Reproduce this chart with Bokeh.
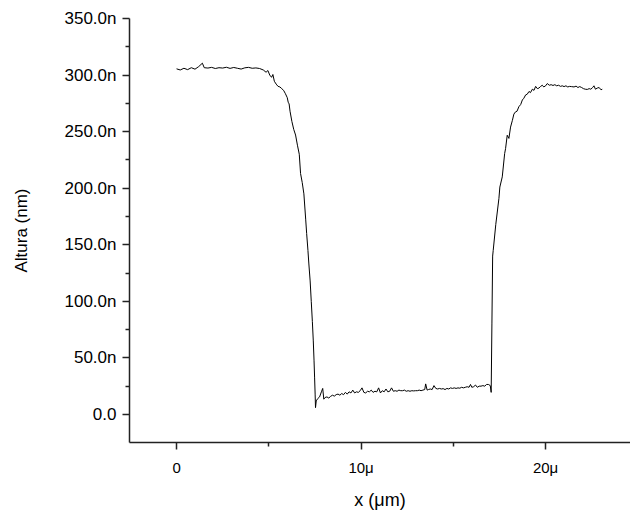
from bokeh.embed import file_html
from bokeh.models import ColumnDataSource, CustomJSTickFormatter, FixedTicker, Range1d
from bokeh.plotting import figure
from bokeh.resources import INLINE

# perfil de altura (x en um, altura en nm)
x_um = [
    0.0, 0.2, 0.4, 0.6, 0.8, 1.0, 1.2, 1.4, 1.5, 1.7, 1.9, 2.1, 2.3, 2.5, 2.7, 2.9,
    3.1, 3.3, 3.5, 3.7, 3.9, 4.1, 4.3, 4.5, 4.7, 4.85, 4.95, 5.05, 5.15, 5.22, 5.3,
    5.4, 5.5, 5.6, 5.7, 5.8, 5.9, 6.0, 6.05, 6.1, 6.15, 6.25, 6.35, 6.45, 6.55, 6.65,
    6.72, 6.81, 6.9, 7.0, 7.05, 7.12, 7.17, 7.24, 7.30, 7.36, 7.41, 7.45, 7.48, 7.51,
    7.53, 7.57, 7.65, 7.75, 7.85, 7.92, 7.98, 8.05, 8.15, 8.25, 8.35, 8.45, 8.55,
    8.65, 8.75, 8.85, 8.95, 9.05, 9.15, 9.25, 9.35, 9.45, 9.55, 9.65, 9.75, 9.85,
    9.95, 10.05, 10.15, 10.25, 10.35, 10.45, 10.55, 10.65, 10.75, 10.85, 10.95,
    11.05, 11.15, 11.25, 11.35, 11.45, 11.55, 11.65, 11.75, 11.85, 11.95, 12.05,
    12.15, 12.25, 12.35, 12.45, 12.55, 12.65, 12.75, 12.85, 12.95, 13.05, 13.15,
    13.25, 13.35, 13.45, 13.50, 13.58, 13.65, 13.75, 13.85, 13.95, 14.05, 14.15,
    14.25, 14.35, 14.45, 14.55, 14.65, 14.75, 14.85, 14.95, 15.05, 15.15, 15.25,
    15.35, 15.45, 15.55, 15.65, 15.75, 15.85, 15.93, 16.0, 16.1, 16.2, 16.3, 16.4,
    16.5, 16.6, 16.7, 16.8, 16.9, 17.0, 17.05, 17.09, 17.13, 17.16, 17.3, 17.47,
    17.52, 17.65, 17.78, 17.83, 17.92, 18.01, 18.1, 18.2, 18.28, 18.37, 18.45, 18.55,
    18.65, 18.74, 18.82, 18.92, 19.0, 19.1, 19.18, 19.28, 19.37, 19.46, 19.55, 19.64,
    19.73, 19.82, 19.9, 20.0, 20.09, 20.2, 20.3, 20.4, 20.5, 20.6, 20.7, 20.81, 20.9,
    21.0, 21.1, 21.2, 21.3, 21.4, 21.54, 21.65, 21.75, 21.85, 21.95, 22.05, 22.15,
    22.26, 22.36, 22.45, 22.55, 22.62, 22.7, 22.8, 22.9, 23.0, 23.07,
]
altura_nm = [
    305.5, 304.5, 306.0, 304.8, 306.5, 305.2, 307.5, 310.5, 306.5, 306.2, 306.8,
    305.8, 306.5, 306.2, 306.9, 305.9, 306.7, 306.0, 305.3, 306.4, 306.8, 306.0,
    306.3, 305.8, 304.5, 302.5, 304.0, 300.0, 298.0, 300.5, 294.5, 292.0, 290.0,
    289.5, 288.0, 286.5, 283.5, 280.0, 276.0, 274.5, 268.0, 259.0, 252.0, 247.0,
    238.0, 230.0, 213.0, 205.0, 195.0, 172.0, 160.0, 145.0, 133.0, 118.0, 100.0,
    82.0, 65.0, 48.0, 33.0, 18.0, 6.0, 12.0, 14.0, 15.5, 20.0, 23.0, 13.5, 15.0,
    15.5, 14.5, 16.0, 17.0, 16.2, 17.5, 18.0, 17.0, 18.5, 17.5, 19.5, 18.0, 20.0,
    19.0, 21.5, 19.0, 20.0, 19.5, 21.0, 23.5, 19.5, 19.0, 20.5, 20.0, 21.5, 19.5,
    20.5, 20.0, 23.5, 19.0, 21.0, 20.0, 22.5, 20.0, 20.5, 23.5, 20.5, 21.0, 20.5,
    21.5, 21.0, 21.0, 21.5, 20.5, 21.0, 20.5, 21.0, 20.8, 21.0, 21.0, 21.5, 21.0,
    21.5, 22.0, 27.0, 21.5, 22.0, 22.5, 22.0, 25.5, 23.0, 22.5, 23.0, 22.5, 22.8,
    22.0, 23.0, 22.5, 23.5, 23.0, 23.5, 23.0, 23.5, 23.2, 24.0, 23.5, 24.0, 24.5,
    24.0, 26.5, 24.0, 24.5, 26.0, 24.0, 25.0, 25.0, 25.5, 25.0, 26.5, 26.5, 25.5,
    19.5, 80.0, 140.0, 145.0, 168.0, 191.0, 201.0, 210.0, 230.6, 235.0, 246.8,
    244.0, 254.0, 260.0, 265.5, 267.5, 268.0, 272.0, 274.0, 278.0, 279.5, 282.5,
    283.0, 285.5, 284.5, 287.5, 286.5, 290.0, 288.0, 288.5, 290.0, 291.0, 289.5,
    290.5, 292.5, 291.0, 291.5, 290.8, 291.5, 290.5, 291.0, 290.0, 290.5, 289.8,
    290.5, 289.5, 290.0, 289.8, 289.5, 290.2, 289.0, 289.8, 289.0, 288.0, 287.5,
    287.3, 288.0, 287.5, 289.0, 290.5, 287.5, 288.5, 289.0, 287.0, 287.5,
]

y_major = [0, 50, 100, 150, 200, 250, 300, 350]
y_minor = [25, 75, 125, 175, 225, 275, 325]
x_major = [0, 10, 20]
x_minor = [5, 15]

FONT = "Liberation Sans"

src = ColumnDataSource(data=dict(x=x_um, y=altura_nm))

p = figure(
    width=630,
    height=514,
    x_range=Range1d(-2.55, 24.6),
    y_range=Range1d(-24.8, 350),
    x_axis_label="x (μm)",
    y_axis_label="Altura (nm)",
    output_backend="svg",
    toolbar_location=None,
    min_border_left=129,
    min_border_right=0,
    min_border_top=18,
    min_border_bottom=72,
)
p.outline_line_color = None
p.xgrid.visible = False
p.ygrid.visible = False

p.line("x", "y", source=src, line_color="black", line_width=1)

p.xaxis.ticker = FixedTicker(ticks=x_major, minor_ticks=x_minor)
p.yaxis.ticker = FixedTicker(ticks=y_major, minor_ticks=y_minor)
p.xaxis.formatter = CustomJSTickFormatter(
    code="return tick == 0 ? '0' : tick.toFixed(0) + 'μ';")
p.yaxis.formatter = CustomJSTickFormatter(
    code="return tick == 0 ? '0.0' : tick.toFixed(1) + 'n';")

for ax in (p.xaxis, p.yaxis):
    ax.axis_line_color = "#222222"
    ax.axis_line_width = 1.5
    ax.major_tick_line_color = "#222222"
    ax.major_tick_line_width = 1.5
    ax.minor_tick_line_color = "#222222"
    ax.minor_tick_line_width = 1.5
    ax.major_tick_in = 0
    ax.major_tick_out = 7
    ax.minor_tick_in = 0
    ax.minor_tick_out = 4
    ax.major_label_text_font = FONT
    ax.major_label_text_color = "black"
    ax.axis_label_text_font = FONT
    ax.axis_label_text_font_style = "normal"
    ax.axis_label_text_color = "black"

p.xaxis.major_label_text_font_size = "15px"
p.yaxis.major_label_text_font_size = "17px"
p.xaxis.axis_label_text_font_size = "18px"
p.yaxis.axis_label_text_font_size = "17px"
p.xaxis.major_label_standoff = 9
p.yaxis.major_label_standoff = 6
p.xaxis.axis_label_standoff = 11
p.yaxis.axis_label_standoff = 31

open("out.html", "w").write(file_html(p, INLINE))
